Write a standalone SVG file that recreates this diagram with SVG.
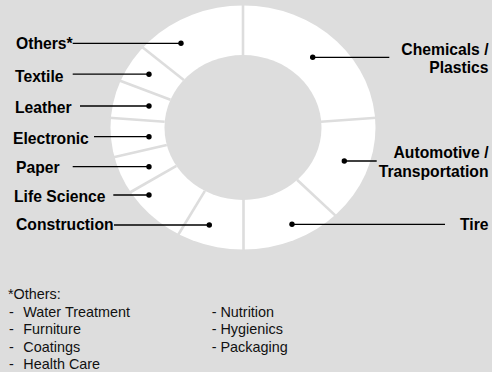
<svg xmlns="http://www.w3.org/2000/svg" width="492" height="372" viewBox="0 0 492 372">
<style>
.bg{fill:#DDDDDD}
.ring{fill:#FFFFFF}
.hole{fill:#DDDDDD}
.div{stroke:#DDDDDD;stroke-width:2.6;fill:none}
.lbl{font-family:"Liberation Sans",Arial,sans-serif;font-weight:bold;font-size:15.7px;fill:#000}
.note{font-family:"Liberation Sans",Arial,sans-serif;font-size:14.4px;fill:#111}
.lead{stroke:#000;stroke-width:1.3;fill:none}
.dot{fill:#000}
</style>
<rect class="bg" x="0" y="0" width="492" height="372"/>
<g id="donut">
<ellipse class="ring" cx="243" cy="127.5" rx="132.5" ry="122"/>
<ellipse class="hole" cx="243" cy="127.5" rx="78.5" ry="72.5"/>
<line class="div" x1="243" y1="56" x2="243" y2="4"/>
<line class="div" x1="320.8" y1="121.8" x2="376.5" y2="117.8"/>
<line class="div" x1="297" y1="179.7" x2="335.5" y2="215.6"/>
<line class="div" x1="243.5" y1="199" x2="243.5" y2="251"/>
<line class="div" x1="204.9" y1="190.9" x2="177.8" y2="235.5"/>
<line class="div" x1="176.4" y1="165.9" x2="129" y2="193"/>
<line class="div" x1="166.8" y1="145" x2="112.5" y2="157.4"/>
<line class="div" x1="164.7" y1="121.8" x2="109" y2="117.8"/>
<line class="div" x1="170.5" y1="99.8" x2="118.8" y2="80.3"/>
<line class="div" x1="183.8" y1="79.9" x2="141.5" y2="46.5"/>
</g>
<g id="connectors">
<line class="lead" x1="72.7" y1="43.3" x2="181" y2="43.3"/>
<line class="lead" x1="72.7" y1="74.2" x2="149" y2="74.2"/>
<line class="lead" x1="80" y1="106" x2="149" y2="106"/>
<line class="lead" x1="94" y1="136.7" x2="149" y2="136.7"/>
<line class="lead" x1="72.7" y1="166.7" x2="149" y2="166.7"/>
<line class="lead" x1="113.3" y1="195" x2="149" y2="195"/>
<line class="lead" x1="114" y1="225" x2="209.3" y2="225"/>
<line class="lead" x1="312.7" y1="57.3" x2="389.3" y2="57.3"/>
<line class="lead" x1="344.3" y1="161" x2="376.7" y2="161"/>
<line class="lead" x1="292" y1="224.3" x2="445" y2="224.3"/>
<circle class="dot" cx="181" cy="43.3" r="2.7"/>
<circle class="dot" cx="149" cy="74.2" r="2.7"/>
<circle class="dot" cx="149" cy="106" r="2.7"/>
<circle class="dot" cx="149" cy="136.7" r="2.7"/>
<circle class="dot" cx="149" cy="166.7" r="2.7"/>
<circle class="dot" cx="149" cy="195" r="2.7"/>
<circle class="dot" cx="209.3" cy="225" r="2.7"/>
<circle class="dot" cx="312.7" cy="57.3" r="2.7"/>
<circle class="dot" cx="344.3" cy="161" r="2.7"/>
<circle class="dot" cx="292" cy="224.3" r="2.7"/>
</g>
<g id="others"><text class="lbl" x="16" y="49.3">Others*</text></g>
<g id="textile"><text class="lbl" x="15" y="81.5">Textile</text></g>
<g id="leather"><text class="lbl" x="15" y="112.5">Leather</text></g>
<g id="electronic"><text class="lbl" x="13" y="144">Electronic</text></g>
<g id="paper"><text class="lbl" x="16" y="172.5">Paper</text></g>
<g id="lifescience"><text class="lbl" x="14" y="201.5">Life Science</text></g>
<g id="construction"><text class="lbl" x="16" y="230">Construction</text></g>
<g id="chemicals"><text class="lbl" text-anchor="end"><tspan x="488.5" y="55">Chemicals /</tspan><tspan x="488.5" y="73.3">Plastics</tspan></text></g>
<g id="automotive"><text class="lbl" text-anchor="end"><tspan x="488.5" y="158.3">Automotive /</tspan><tspan x="488.5" y="176.7">Transportation</tspan></text></g>
<g id="tire"><text class="lbl" text-anchor="end" x="488.5" y="230">Tire</text></g>
<g id="footnote">
<text class="note" x="8" y="298.5">*Others:</text>
<text class="note" y="316.7"><tspan x="9">-</tspan><tspan x="23.3">Water Treatment</tspan></text>
<text class="note" y="334.2"><tspan x="9">-</tspan><tspan x="23.3">Furniture</tspan></text>
<text class="note" y="351.7"><tspan x="9">-</tspan><tspan x="23.3">Coatings</tspan></text>
<text class="note" y="369.3"><tspan x="9">-</tspan><tspan x="23.3">Health Care</tspan></text>
<text class="note" x="211.7" y="316.7">- Nutrition</text>
<text class="note" x="211.7" y="334.2">- Hygienics</text>
<text class="note" x="211.7" y="351.7">- Packaging</text>
</g>
</svg>
